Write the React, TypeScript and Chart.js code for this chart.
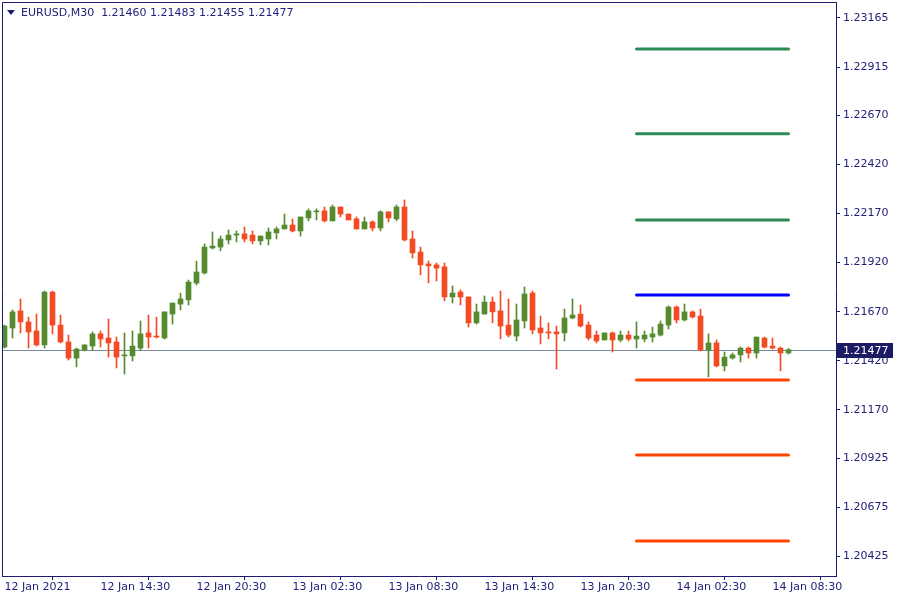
import React, { useEffect, useRef } from 'react';
import { Chart, registerables } from 'chart.js';

Chart.register(...registerables);

const symbolTitle = 'EURUSD,M30';

const opens = [
  1.21490, 1.21587, 1.21674, 1.21618, 1.21572, 1.21501, 1.21770, 1.21602, 1.21516, 1.21434,
  1.21475, 1.21495, 1.21557, 1.21536, 1.21516, 1.21445, 1.21445, 1.21485, 1.21562, 1.21546,
  1.21536, 1.21658, 1.21709, 1.21730, 1.21816, 1.21867, 1.21994, 1.21999, 1.22035, 1.22060,
  1.22066, 1.22060, 1.22030, 1.22040, 1.22071, 1.22091, 1.22111, 1.22081, 1.22147, 1.22178,
  1.22183, 1.22132, 1.22203, 1.22167, 1.22142, 1.22091, 1.22127, 1.22096, 1.22178, 1.22142,
  1.22203, 1.22040, 1.21974, 1.21913, 1.21908, 1.21898, 1.21745, 1.21770, 1.21745, 1.21613,
  1.21658, 1.21719, 1.21674, 1.21602, 1.21546, 1.21623, 1.21765, 1.21587, 1.21567, 1.21567,
  1.21562, 1.21638, 1.21658, 1.21602, 1.21551, 1.21526, 1.21562, 1.21526, 1.21551, 1.21531,
  1.21531, 1.21541, 1.21551, 1.21602, 1.21694, 1.21628, 1.21669, 1.21648, 1.21475, 1.21511,
  1.21394, 1.21434, 1.21450, 1.21485, 1.21460, 1.21536, 1.21495, 1.21485, 1.21460,
];
const highs = [
  1.21602, 1.21679, 1.21735, 1.21643, 1.21658, 1.21775, 1.21775, 1.21653, 1.21551, 1.21485,
  1.21501, 1.21567, 1.21572, 1.21633, 1.21541, 1.21562, 1.21572, 1.21623, 1.21653, 1.21643,
  1.21669, 1.21714, 1.21765, 1.21831, 1.21928, 1.22015, 1.22076, 1.22055, 1.22086, 1.22081,
  1.22101, 1.22081, 1.22055, 1.22096, 1.22101, 1.22167, 1.22142, 1.22152, 1.22193, 1.22193,
  1.22203, 1.22213, 1.22203, 1.22167, 1.22152, 1.22152, 1.22132, 1.22183, 1.22178, 1.22213,
  1.22239, 1.22081, 1.21999, 1.21928, 1.21918, 1.21918, 1.21801, 1.21781, 1.21745, 1.21709,
  1.21750, 1.21745, 1.21775, 1.21735, 1.21709, 1.21796, 1.21775, 1.21648, 1.21613, 1.21597,
  1.21684, 1.21735, 1.21704, 1.21618, 1.21572, 1.21562, 1.21567, 1.21572, 1.21572, 1.21618,
  1.21572, 1.21592, 1.21623, 1.21699, 1.21699, 1.21709, 1.21674, 1.21684, 1.21557, 1.21526,
  1.21465, 1.21460, 1.21490, 1.21490, 1.21541, 1.21541, 1.21536, 1.21490, 1.21483,
];
const lows = [
  1.21485, 1.21536, 1.21562, 1.21485, 1.21495, 1.21485, 1.21557, 1.21511, 1.21424, 1.21389,
  1.21470, 1.21475, 1.21490, 1.21439, 1.21384, 1.21353, 1.21419, 1.21475, 1.21485, 1.21536,
  1.21531, 1.21607, 1.21679, 1.21704, 1.21806, 1.21862, 1.21989, 1.21979, 1.22015, 1.22025,
  1.22025, 1.22015, 1.22010, 1.22010, 1.22040, 1.22091, 1.22076, 1.22055, 1.22132, 1.22137,
  1.22127, 1.22132, 1.22152, 1.22137, 1.22091, 1.22091, 1.22081, 1.22081, 1.22127, 1.22132,
  1.22030, 1.21943, 1.21857, 1.21816, 1.21826, 1.21725, 1.21714, 1.21704, 1.21592, 1.21607,
  1.21658, 1.21613, 1.21531, 1.21541, 1.21521, 1.21587, 1.21557, 1.21506, 1.21531, 1.21378,
  1.21521, 1.21633, 1.21592, 1.21526, 1.21511, 1.21526, 1.21465, 1.21516, 1.21521, 1.21485,
  1.21516, 1.21516, 1.21546, 1.21582, 1.21613, 1.21623, 1.21638, 1.21470, 1.21338, 1.21389,
  1.21368, 1.21429, 1.21414, 1.21434, 1.21434, 1.21485, 1.21480, 1.21368, 1.21455,
];
const closes = [
  1.21597, 1.21669, 1.21618, 1.21567, 1.21501, 1.21770, 1.21602, 1.21516, 1.21434, 1.21480,
  1.21501, 1.21557, 1.21531, 1.21511, 1.21439, 1.21450, 1.21495, 1.21557, 1.21541, 1.21541,
  1.21669, 1.21714, 1.21735, 1.21821, 1.21872, 1.21999, 1.22004, 1.22040, 1.22060, 1.22066,
  1.22040, 1.22030, 1.22055, 1.22076, 1.22091, 1.22111, 1.22081, 1.22152, 1.22183, 1.22183,
  1.22132, 1.22203, 1.22167, 1.22137, 1.22091, 1.22127, 1.22096, 1.22178, 1.22147, 1.22203,
  1.22035, 1.21969, 1.21908, 1.21903, 1.21892, 1.21745, 1.21765, 1.21745, 1.21613, 1.21669,
  1.21719, 1.21669, 1.21597, 1.21551, 1.21628, 1.21760, 1.21577, 1.21562, 1.21562, 1.21557,
  1.21638, 1.21653, 1.21597, 1.21536, 1.21521, 1.21562, 1.21526, 1.21551, 1.21531, 1.21546,
  1.21551, 1.21557, 1.21607, 1.21694, 1.21628, 1.21669, 1.21643, 1.21475, 1.21511, 1.21394,
  1.21439, 1.21450, 1.21485, 1.21460, 1.21541, 1.21490, 1.21485, 1.21460, 1.21477,
];

const xTickIdx = [0, 12, 24, 36, 48, 60, 72, 84, 96];
const xTickLabels = [
  '12 Jan 2021', '12 Jan 14:30', '12 Jan 20:30', '13 Jan 02:30', '13 Jan 08:30',
  '13 Jan 14:30', '13 Jan 20:30', '14 Jan 02:30', '14 Jan 08:30',
];
const yTickValues = [
  1.23165, 1.22915, 1.22670, 1.22420, 1.22170, 1.21920,
  1.21670, 1.21420, 1.21170, 1.20925, 1.20675, 1.20425,
];

const resistanceLevels = [1.23007, 1.22575, 1.22137];
const pivotLevels = [1.21755];
const supportLevels = [1.21322, 1.20941, 1.20503];
const levelStartIdx = 79;
const levelEndIdx = 98;

const GREEN = '#558B2F';
const RED = '#F24A22';
const NAVY = '#1B1B72';
const TEXT = '#23227A';

export default function App() {
  const ref = useRef<HTMLCanvasElement | null>(null);

  useEffect(() => {
    const canvas = ref.current;
    if (!canvas) return;
    const idx = opens.map((_, i) => i);
    const colors = idx.map((i) => (closes[i] >= opens[i] ? GREEN : RED));
    const last = closes.length - 1;
    const o = opens[last], h = highs[last], l = lows[last], c = closes[last];

    const levelDs = (vals: number[], color: string) =>
      vals.map((v) => ({
        type: 'line' as const,
        data: [
          { x: levelStartIdx, y: v },
          { x: levelEndIdx, y: v },
        ],
        borderColor: color,
        borderWidth: 3,
        pointRadius: 0,
        borderCapStyle: 'round' as const,
        order: 0,
      }));

    const overlay = {
      id: 'mt4overlay',
      beforeDatasetsDraw(chart: any) {
        const { ctx, chartArea } = chart;
        const y = Math.round(chart.scales.y.getPixelForValue(c)) + 0.5;
        ctx.save();
        ctx.strokeStyle = '#778899';
        ctx.lineWidth = 1;
        ctx.beginPath();
        ctx.moveTo(chartArea.left, y);
        ctx.lineTo(chartArea.right, y);
        ctx.stroke();
        ctx.restore();
      },
      afterDraw(chart: any) {
        const { ctx, chartArea } = chart;
        ctx.save();
        ctx.strokeStyle = NAVY;
        ctx.lineWidth = 1;
        ctx.beginPath();
        ctx.moveTo(chartArea.left + 0.5, chartArea.bottom);
        ctx.lineTo(chartArea.left + 0.5, chartArea.top + 0.5);
        ctx.lineTo(chartArea.right, chartArea.top + 0.5);
        ctx.stroke();
        ctx.fillStyle = NAVY;
        ctx.beginPath();
        ctx.moveTo(7, 10);
        ctx.lineTo(15, 10);
        ctx.lineTo(11, 15);
        ctx.closePath();
        ctx.fill();
        ctx.font = '11px "DejaVu Sans"';
        ctx.textBaseline = 'middle';
        ctx.textAlign = 'left';
        ctx.fillStyle = TEXT;
        const header = `${symbolTitle}  ${o.toFixed(5)} ${h.toFixed(5)} ${l.toFixed(5)} ${c.toFixed(5)}`;
        ctx.fillText(header, 21, 13);
        const py = Math.round(chart.scales.y.getPixelForValue(c));
        ctx.fillStyle = '#1C1C64';
        ctx.fillRect(chartArea.right + 1, py - 7, 56, 15);
        ctx.fillStyle = '#FFFFFF';
        ctx.fillText(c.toFixed(5), chartArea.right + 7, py + 1);
        ctx.restore();
      },
    };

    const chart = new Chart(canvas, {
      type: 'bar',
      data: {
        datasets: [
          {
            type: 'bar',
            data: idx.map((i) => ({ x: i, y: [lows[i], highs[i]] })),
            backgroundColor: colors,
            barThickness: 1,
            grouped: false,
            order: 3,
          } as any,
          {
            type: 'bar',
            data: idx.map((i) => ({ x: i, y: [opens[i], closes[i]] })),
            backgroundColor: colors,
            barThickness: 5,
            minBarLength: 1,
            grouped: false,
            order: 2,
          } as any,
          ...levelDs(resistanceLevels, '#2E8B57'),
          ...levelDs(pivotLevels, '#0000FF'),
          ...levelDs(supportLevels, '#FF4500'),
        ],
      },
      options: {
        animation: false,
        responsive: true,
        maintainAspectRatio: false,
        layout: { padding: { left: 2, top: 2, right: 0, bottom: 0 } },
        plugins: { legend: { display: false }, tooltip: { enabled: false }, title: { display: false } },
        events: [],
        scales: {
          x: {
            type: 'linear',
            min: -0.3125,
            max: 103.9375,
            offset: false,
            afterBuildTicks: (scale: any) => {
              scale.ticks = xTickIdx.map((v) => ({ value: v }));
            },
            afterFit: (scale: any) => {
              scale.height = 24;
              scale.paddingLeft = 0;
              scale.paddingRight = 0;
            },
            grid: { drawOnChartArea: false, drawTicks: true, tickLength: 4, color: NAVY },
            border: { display: true, color: NAVY },
            ticks: {
              autoSkip: false,
              maxRotation: 0,
              minRotation: 0,
              align: 'start',
              padding: 1,
              color: TEXT,
              font: { family: 'DejaVu Sans', size: 11 },
              callback: (v: any) => xTickLabels[xTickIdx.indexOf(Number(v))] ?? '',
            },
          },
          y: {
            type: 'linear',
            position: 'right',
            min: 1.20325,
            max: 1.23246,
            afterBuildTicks: (scale: any) => {
              scale.ticks = yTickValues.map((v) => ({ value: v }));
            },
            afterFit: (scale: any) => {
              scale.width = 64;
              scale.paddingTop = 0;
              scale.paddingBottom = 0;
            },
            grid: { drawOnChartArea: false, drawTicks: true, tickLength: 4, color: NAVY },
            border: { display: true, color: NAVY },
            ticks: {
              padding: 3,
              color: TEXT,
              font: { family: 'DejaVu Sans', size: 11 },
              callback: (v: any) => Number(v).toFixed(5),
            },
          },
        },
      } as any,
      plugins: [overlay],
    });
    return () => chart.destroy();
  }, []);

  return (
    <div style={{ position: 'fixed', left: 0, top: 0, width: 900, height: 600, background: '#FFFFFF' }}>
      <canvas ref={ref} />
    </div>
  );
}
